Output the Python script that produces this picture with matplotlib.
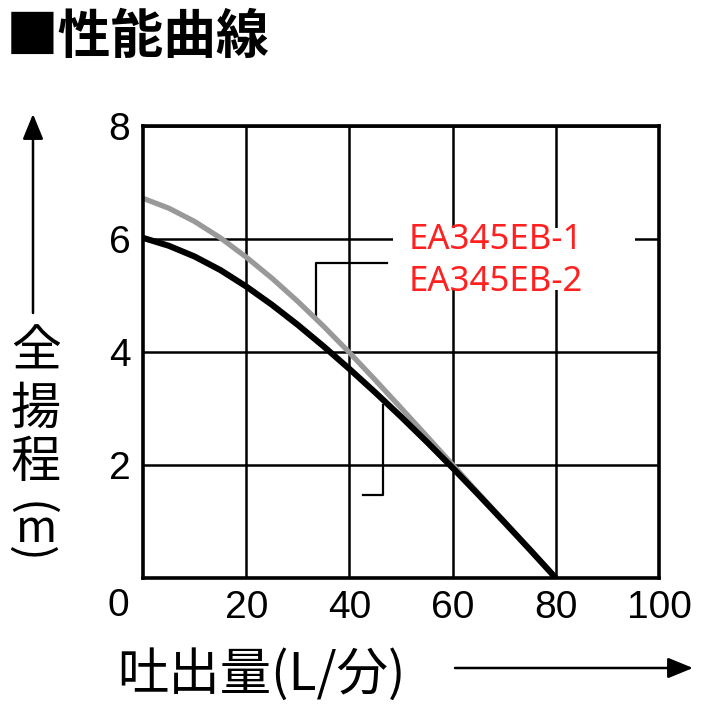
import matplotlib
matplotlib.use("Agg")
import matplotlib.pyplot as plt
from matplotlib.patches import Rectangle, FancyArrowPatch

# ---- data ----
flow = [0, 5, 10, 15, 20, 25, 30, 35, 40, 45, 50, 55, 60, 65, 70, 75, 80]
head_eb1 = [6.02, 5.88, 5.69, 5.45, 5.16, 4.835, 4.48, 4.10, 3.70, 3.285, 2.855, 2.41, 1.95, 1.475, 0.99, 0.50, 0.0]
head_eb2 = [6.72, 6.545, 6.31, 6.02, 5.68, 5.305, 4.895, 4.455, 3.99, 3.505, 3.01, 2.51, 2.005, 1.50, 1.00, 0.50, 0.0]
x_ticks = [20, 40, 60, 80, 100]
y_ticks = [2, 4, 6, 8]
series_names = ["EA345EB-1", "EA345EB-2"]
title = "■性能曲線"
xlabel = "吐出量(L/分)"
ylabel_chars = ["全", "揚", "程"]
ylabel_unit = "m"

CJK = ["Noto Sans CJK JP", "DejaVu Sans"]
NUM = ["Liberation Sans", "DejaVu Sans"]

fig = plt.figure(figsize=(7.13, 7.13), dpi=100)
W = H = 713.0
def fx(px):
    return px / W
def fy(py):
    return 1 - py / H

ax = fig.add_axes([fx(143), fy(578), (659 - 143) / W, (578 - 126) / H])
ax.set_xlim(0, 100)
ax.set_ylim(0, 8)

ax.plot(flow, head_eb2, color="#999999", lw=3.8, zorder=4, solid_capstyle="butt",
        solid_joinstyle="round")
ax.plot(flow, head_eb1, color="black", lw=4.4, zorder=5, solid_capstyle="butt",
        solid_joinstyle="round")

ax.set_xticks(x_ticks)
ax.set_yticks(y_ticks)
ax.grid(True, color="black", lw=1.8, zorder=1)
ax.set_axisbelow(True)
ax.tick_params(length=0, labelsize=28, pad=9)
for lab in ax.get_xticklabels() + ax.get_yticklabels():
    lab.set_fontfamily(NUM)
for s in ax.spines.values():
    s.set_linewidth(2.6)
    s.set_zorder(6)

# corner "0"
fig.text(fx(118), fy(606), "0", fontsize=28, family=NUM, ha="center", va="center")

# legend text with white box
ax.add_patch(Rectangle((48.4, 5.1), 95.3 - 48.4, 6.19 - 5.1, facecolor="white",
                       edgecolor="none", zorder=3))
ax.text(51.5, 5.99, series_names[0], color="#ff2020", fontsize=25, family=["Noto Sans"],
        va="center", ha="left", zorder=7)
ax.text(51.5, 5.24, series_names[1], color="#ff2020", fontsize=25, family=["Noto Sans"],
        va="center", ha="left", zorder=7)

# leader lines
ax.plot([33.6, 33.6, 47.3], [4.62, 5.58, 5.58], color="black", lw=1.6, zorder=3)
ax.plot([46.55, 46.55, 42.6], [3.06, 1.47, 1.47], color="black", lw=1.6, zorder=3)

# title
fig.text(fx(6), fy(37), title, fontsize=38, family=CJK, fontweight="bold",
         ha="left", va="center")

# y label (vertical)
for ch, cy in zip(ylabel_chars, [353, 410, 463]):
    fig.text(fx(36), fy(cy), ch, fontsize=36, family=CJK, ha="center", va="center")
fig.text(fx(36), fy(529), ylabel_unit, fontsize=32, family=CJK, ha="center", va="center")
fig.text(fx(30), fy(509), "(", fontsize=34, family=CJK, ha="center", va="center",
         rotation=-90)
fig.text(fx(30), fy(554), ")", fontsize=34, family=CJK, ha="center", va="center",
         rotation=-90)

fig.patches.append(FancyArrowPatch((fx(33), fy(313)), (fx(33), fy(114)),
                                   transform=fig.transFigure, arrowstyle="-|>,head_length=1.1,head_width=0.45",
                                   mutation_scale=14, color="black", lw=1.8, shrinkA=0, shrinkB=0))

# x label
fig.text(fx(117), fy(675), xlabel, fontsize=37, family=CJK, ha="left", va="center")
fig.patches.append(FancyArrowPatch((fx(455), fy(668)), (fx(693), fy(668)),
                                   transform=fig.transFigure, arrowstyle="-|>,head_length=1.1,head_width=0.45",
                                   mutation_scale=14, color="black", lw=1.8, shrinkA=0, shrinkB=0))

fig.savefig("out.png", dpi=100, facecolor="white")
